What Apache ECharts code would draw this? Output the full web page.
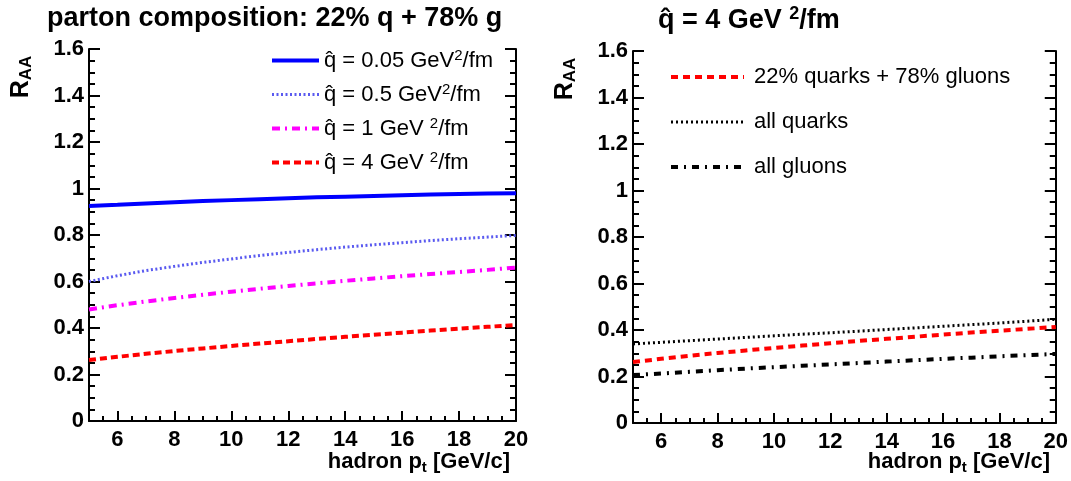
<!DOCTYPE html>
<html><head><meta charset="utf-8">
<script src="https://cdn.jsdelivr.net/npm/echarts@6/dist/echarts.min.js"></script>
<style>html,body{margin:0;padding:0;background:#fff}#c{width:1071px;height:481px}</style>
</head><body><div id="c"></div>
<script>
// ---- data ----
const pt = [5,6,7,8,9,10,11,12,13,14,15,16,17,18,19,20];
const qhat005 = [0.925,0.930,0.936,0.941,0.946,0.950,0.954,0.958,0.962,0.965,0.968,0.971,0.974,0.976,0.978,0.980];
const qhat05  = [0.600,0.625,0.647,0.665,0.682,0.697,0.712,0.725,0.737,0.748,0.758,0.767,0.776,0.784,0.791,0.798];
const qhat1   = [0.480,0.498,0.514,0.529,0.543,0.556,0.569,0.581,0.592,0.603,0.613,0.623,0.632,0.641,0.650,0.660];
const qhat4   = [0.262,0.276,0.289,0.301,0.312,0.323,0.333,0.343,0.353,0.362,0.371,0.380,0.389,0.397,0.405,0.413];
const allQuarks = [0.340,0.347,0.354,0.361,0.368,0.375,0.382,0.388,0.395,0.402,0.409,0.416,0.423,0.430,0.438,0.446];
const allGluons = [0.206,0.213,0.220,0.227,0.234,0.240,0.246,0.252,0.258,0.264,0.270,0.276,0.281,0.287,0.292,0.297];
const mixed4    = qhat4;
const leftNames = ['q\u0302 = 0.05 GeV2/fm','q\u0302 = 0.5 GeV2/fm','q\u0302 = 1 GeV 2/fm','q\u0302 = 4 GeV 2/fm'];
const rightNames = ['22% quarks + 78% gluons','all quarks','all gluons'];
const yTicksMajor = 0.2, yTicksMinor = 0.05, xMajor = 2, xMinor = 0.5;

const FONT = 'Liberation Sans';
const LBL = 22;
const pairs = ys => pt.map((x,i)=>[x, ys[i]]);

function xAxes(grid){
  return [
    {type:'value', gridIndex:grid, position:'bottom', min:5, max:20, minInterval:xMajor, maxInterval:xMajor, splitNumber:7,
     axisLine:{show:true,onZero:false,lineStyle:{color:'#000',width:2}},
     axisTick:{show:true,inside:true,length:10,lineStyle:{color:'#000',width:2}},
     axisLabel:{show:true,showMinLabel:false,margin:8,color:'#000',fontFamily:FONT,fontWeight:'bold',fontSize:LBL},
     splitLine:{show:false}},
    {type:'value', gridIndex:grid, position:'bottom', min:5, max:20, interval:xMinor,
     axisLine:{show:false,onZero:false},
     axisTick:{show:true,inside:true,length:5,lineStyle:{color:'#000',width:2}},
     axisLabel:{show:false}, splitLine:{show:false}}
  ];
}
function yAxes(grid){
  const base = (pos, main) => ({type:'value', gridIndex:grid, position:pos, min:0, max:1.6,
     interval: main ? yTicksMajor : yTicksMinor,
     axisLine:{show:main,onZero:false,lineStyle:{color:'#000',width:2}},
     axisTick:{show:true,inside:true,length: main?11:6,lineStyle:{color:'#000',width:2}},
     axisLabel:{show: main && pos==='left', margin:5, color:'#000',fontFamily:FONT,fontWeight:'bold',fontSize:LBL},
     splitLine:{show:false}});
  return [base('left',true), base('left',false), base('right',true), base('right',false)];
}

const supRich = {
  t:{fontSize:22, fontFamily:FONT, color:'#000', lineHeight:24},
  s:{fontSize:15, fontFamily:FONT, color:'#000', lineHeight:24, padding:[0,0,10,0]}
};
function supFmt(name){
  const i = name.indexOf('2/fm');
  if (i < 0) return '{t|' + name + '}';
  return '{t|' + name.slice(0,i) + '}{s|2}{t|/fm}';
}
const NOSYM = 'rgba(0,0,0,0)';

const chart = echarts.init(document.getElementById('c'), null, {renderer:'canvas'});
chart.setOption({
  backgroundColor:'#fff',
  animation:false,
  grid:[
    {left:89, top:49, right:1071-516, bottom:481-421},
    {left:633, top:51, right:1071-1056, bottom:481-423}
  ],
  xAxis: xAxes(0).concat(xAxes(1)),
  yAxis: yAxes(0).concat(yAxes(1)),
  legend:[
    {data:leftNames, left:265, top:43, orient:'vertical', itemWidth:47, itemHeight:12, itemGap:9,
     lineStyle:{width:'inherit'}, itemStyle:{opacity:0}, selectedMode:false, formatter:supFmt,
     textStyle:{fontSize:22, fontFamily:FONT, color:'#000', lineHeight:24, rich:supRich}},
    {data:rightNames, left:664, top:60, orient:'vertical', itemWidth:73, itemHeight:12, itemGap:21,
     lineStyle:{width:'inherit'}, itemStyle:{opacity:0}, selectedMode:false,
     textStyle:{fontSize:22, fontFamily:FONT, color:'#000', lineHeight:24, padding:[0,0,0,5]}}
  ],
  series:[
    {name:leftNames[0], type:'line', xAxisIndex:0, yAxisIndex:0, data:pairs(qhat005), symbol:'none', silent:true,
     lineStyle:{color:'#0000ff', width:4, type:'solid'}, itemStyle:{color:NOSYM}},
    {name:leftNames[1], type:'line', xAxisIndex:0, yAxisIndex:0, data:pairs(qhat05), symbol:'none', silent:true,
     lineStyle:{color:'#5a5af0', width:3, type:[2,2.5]}, itemStyle:{color:NOSYM}},
    {name:leftNames[2], type:'line', xAxisIndex:0, yAxisIndex:0, data:pairs(qhat1), symbol:'none', silent:true,
     lineStyle:{color:'#ff00ff', width:4, type:[8,5,2,5]}, itemStyle:{color:NOSYM}},
    {name:leftNames[3], type:'line', xAxisIndex:0, yAxisIndex:0, data:pairs(qhat4), symbol:'none', silent:true,
     lineStyle:{color:'#ff0000', width:4, type:[7,4]}, itemStyle:{color:NOSYM}},
    {name:rightNames[0], type:'line', xAxisIndex:2, yAxisIndex:4, data:pairs(mixed4), symbol:'none', silent:true,
     lineStyle:{color:'#ff0000', width:4, type:[7,5]}, itemStyle:{color:NOSYM}},
    {name:rightNames[1], type:'line', xAxisIndex:2, yAxisIndex:4, data:pairs(allQuarks), symbol:'none', silent:true,
     lineStyle:{color:'#000000', width:3, type:[2,3]}, itemStyle:{color:NOSYM}},
    {name:rightNames[2], type:'line', xAxisIndex:2, yAxisIndex:4, data:pairs(allGluons), symbol:'none', silent:true,
     lineStyle:{color:'#000000', width:4, type:[7,6,2,6]}, itemStyle:{color:NOSYM}}
  ],
  graphic:[
    {type:'text', left:47, top:5, style:{text:'parton composition: 22% q + 78% g', fontSize:27, fontWeight:'bold', fontFamily:FONT, fill:'#000'}},
    {type:'text', left:658, top:5, style:{text:'{b|q\u0302 = 4 GeV }{s|2}{b|/fm}', fill:'#000',
       rich:{b:{fontSize:27,fontWeight:'bold',fontFamily:FONT,lineHeight:32}, s:{fontSize:18,fontWeight:'bold',fontFamily:FONT,lineHeight:32,padding:[0,0,13,0]}}}},
    {type:'text', x:21, y:77, rotation:Math.PI/2, style:{text:'{b|R}{s|AA}', align:'center', verticalAlign:'middle', fill:'#000',
       rich:{b:{fontSize:25,fontWeight:'bold',fontFamily:FONT,lineHeight:27}, s:{fontSize:17,fontWeight:'bold',fontFamily:FONT,lineHeight:27,padding:[11,0,0,0]}}}},
    {type:'text', x:565, y:79, rotation:Math.PI/2, style:{text:'{b|R}{s|AA}', align:'center', verticalAlign:'middle', fill:'#000',
       rich:{b:{fontSize:25,fontWeight:'bold',fontFamily:FONT,lineHeight:27}, s:{fontSize:17,fontWeight:'bold',fontFamily:FONT,lineHeight:27,padding:[11,0,0,0]}}}},
    {type:'text', right:1071-510, top:449, style:{text:'{b|hadron p}{s|t}{b| [GeV/c]}', fill:'#000',
       rich:{b:{fontSize:22,fontWeight:'bold',fontFamily:FONT,lineHeight:28}, s:{fontSize:15,fontWeight:'bold',fontFamily:FONT,lineHeight:28,padding:[11,0,0,0]}}}},
    {type:'text', right:1071-1050, top:449, style:{text:'{b|hadron p}{s|t}{b| [GeV/c]}', fill:'#000',
       rich:{b:{fontSize:22,fontWeight:'bold',fontFamily:FONT,lineHeight:28}, s:{fontSize:15,fontWeight:'bold',fontFamily:FONT,lineHeight:28,padding:[11,0,0,0]}}}}
  ]
});
</script></body></html>
